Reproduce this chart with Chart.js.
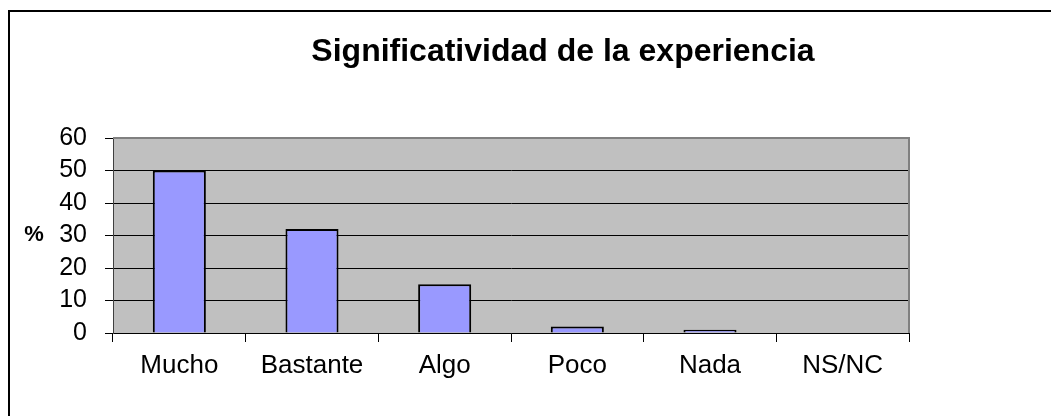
<!DOCTYPE html>
<html>
<head>
<meta charset="utf-8">
<script src="https://cdn.jsdelivr.net/npm/chart.js@4"></script>
<style>
  html, body { margin: 0; padding: 0; background: #fff; }
  #wrap { width: 1051px; height: 416px; position: relative; }
</style>
</head>
<body>
<div id="wrap"><canvas id="c" width="1051" height="416"></canvas></div>
<script>
const chartTitle = 'Significatividad de la experiencia';
const yAxisLabel = '%';
const categories = ['Mucho', 'Bastante', 'Algo', 'Poco', 'Nada', 'NS/NC'];
const percentValues = [50, 32, 15, 2, 1, 0];
const yTickValues = [0, 10, 20, 30, 40, 50, 60];

const FONT = "'Liberation Sans', Arial, sans-serif";

const decor = {
  id: 'decor',
  beforeDraw(chart) {
    const ctx = chart.ctx;
    const a = chart.chartArea;
    ctx.save();
    ctx.strokeStyle = '#000';
    ctx.lineWidth = 2;
    ctx.beginPath();
    ctx.moveTo(9, 420);
    ctx.lineTo(9, 11);
    ctx.lineTo(1055, 11);
    ctx.stroke();
    ctx.fillStyle = '#C0C0C0';
    ctx.fillRect(a.left, a.top, a.right - a.left, a.bottom - a.top);
    ctx.restore();
  },
  afterDraw(chart) {
    const ctx = chart.ctx;
    const a = chart.chartArea;
    const ys = chart.scales.y;
    ctx.save();
    ctx.strokeStyle = '#808080';
    ctx.lineWidth = 2;
    ctx.beginPath();
    ctx.moveTo(a.left, a.top);
    ctx.lineTo(a.right, a.top);
    ctx.lineTo(a.right, a.bottom);
    ctx.stroke();
    ctx.fillStyle = '#000';
    ctx.font = "bold 32px " + FONT;
    ctx.textAlign = 'center';
    ctx.textBaseline = 'alphabetic';
    ctx.fillText(chartTitle, 563, 61);
    ctx.font = "bold 22px " + FONT;
    ctx.textAlign = 'center';
    ctx.textBaseline = 'middle';
    ctx.fillText(yAxisLabel, 34, ys.getPixelForValue(30) - 1);
    ctx.restore();
  }
};

new Chart(document.getElementById('c'), {
  type: 'bar',
  data: {
    labels: categories,
    datasets: [{
      data: percentValues,
      backgroundColor: '#9999FF',
      borderColor: '#000',
      borderWidth: 2,
      barPercentage: 0.4,
      categoryPercentage: 1.0
    }]
  },
  options: {
    responsive: false,
    animation: false,
    devicePixelRatio: 1,
    layout: { padding: { left: 0, right: 142, top: 138, bottom: 0 } },
    plugins: {
      legend: { display: false },
      title: { display: false },
      tooltip: { enabled: false }
    },
    scales: {
      x: {
        offset: true,
        afterFit(s) { s.height = 83; },
        grid: {
          offset: true,
          drawOnChartArea: false,
          drawTicks: true,
          tickLength: 9,
          tickColor: '#000',
          tickWidth: 1
        },
        border: { display: true, color: '#000', width: 1 },
        ticks: {
          color: '#000',
          font: { family: FONT, size: 26 },
          padding: 8,
          maxRotation: 0,
          autoSkip: false
        }
      },
      y: {
        min: 0,
        max: 60,
        afterFit(s) { s.width = 113; },
        afterBuildTicks(s) { s.ticks = yTickValues.map(v => ({ value: v })); },
        grid: {
          color: (c) => (c.tick && c.tick.value === 60) ? 'rgba(0,0,0,0)' : '#000',
          lineWidth: 1,
          drawTicks: true,
          tickLength: 8,
          tickColor: '#000',
          tickWidth: 1
        },
        border: { display: true, color: '#404040', width: 1 },
        ticks: {
          color: '#000',
          font: { family: FONT, size: 25, lineHeight: 1.0 },
          padding: 18,
          autoSkip: false
        }
      }
    }
  },
  plugins: [decor]
});
</script>
</body>
</html>
